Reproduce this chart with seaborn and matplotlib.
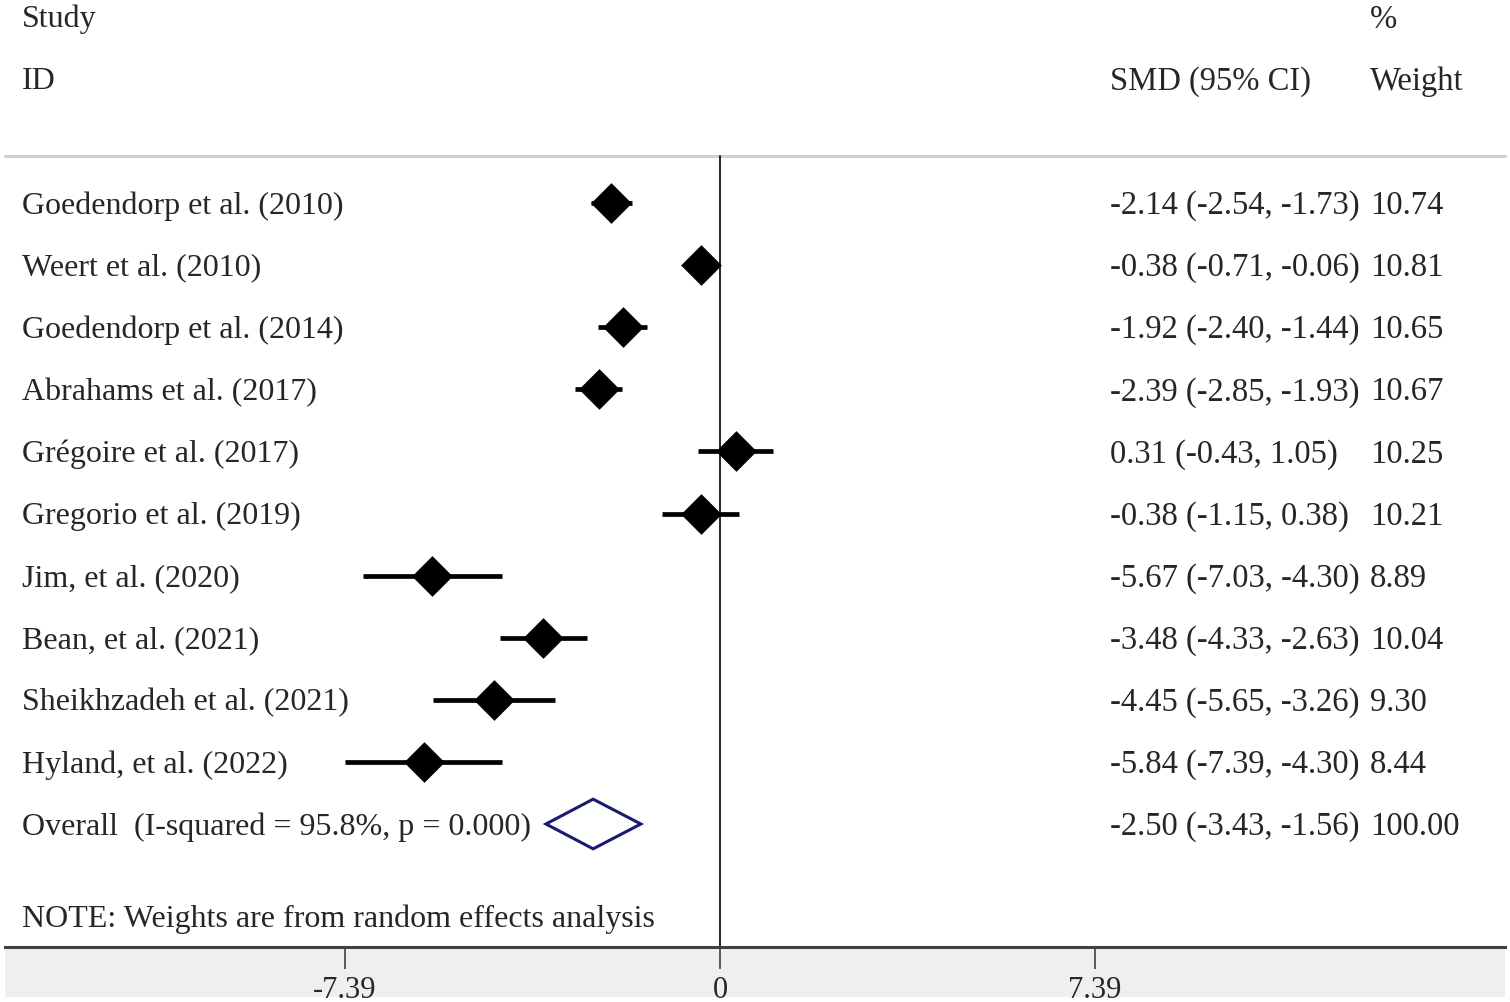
import seaborn as sns
import pandas as pd
import numpy as np
import matplotlib.pyplot as plt
from matplotlib.patches import Rectangle, Polygon

studies = ["Goedendorp et al. (2010)", "Weert et al. (2010)", "Goedendorp et al. (2014)",
           "Abrahams et al. (2017)", "Grégoire et al. (2017)", "Gregorio et al. (2019)",
           "Jim, et al. (2020)", "Bean, et al. (2021)", "Sheikhzadeh et al. (2021)",
           "Hyland, et al. (2022)"]
smd = [-2.14, -0.38, -1.92, -2.39, 0.31, -0.38, -5.67, -3.48, -4.45, -5.84]
lo = [-2.54, -0.71, -2.40, -2.85, -0.43, -1.15, -7.03, -4.33, -5.65, -7.39]
hi = [-1.73, -0.06, -1.44, -1.93, 1.05, 0.38, -4.30, -2.63, -3.26, -4.30]
weight = [10.74, 10.81, 10.65, 10.67, 10.25, 10.21, 8.89, 10.04, 9.30, 8.44]

overall_label = "Overall  (I-squared = 95.8%, p = 0.000)"
overall = [-2.50, -3.43, -1.56]
overall_weight = 100.00
ticks = [-7.39, 0, 7.39]

df = pd.DataFrame({"study": studies, "smd": smd, "lo": lo, "hi": hi, "weight": weight})
df["row"] = np.arange(len(df))

sns.set_style("white")
plt.rcParams["font.family"] = ["Liberation Serif", "DejaVu Serif"]
FS = 23
FS_R = 23.5
dy = 0.03  # small nudge so text centres sit on the row

W, H = 1510, 1003
fig = plt.figure(figsize=(W / 100, H / 100), dpi=100)

# grey band below the axis
fig.patches.append(Rectangle((5 / W, 5 / H), 1500 / W, (H - 950 - 5) / H,
                             transform=fig.transFigure, facecolor="#efefef",
                             edgecolor="none", zorder=-1))

ax = fig.add_axes([5 / W, (H - 948) / H, 1500 / W, 948 / H])
ax.set_facecolor("white")
px = 50.74  # pixels per unit
ax.set_xlim(-715 / px, 785 / px)
rowpx = 62.1
ax.set_ylim((948 - 204) / rowpx, -204 / rowpx)

for s in ["top", "left", "right"]:
    ax.spines[s].set_visible(False)
ax.spines["bottom"].set_color("#404040")
ax.spines["bottom"].set_linewidth(2.2)
ax.set_yticks([])
ax.set_xticks(ticks)
ax.set_xticklabels(["-7.39", "0", "7.39"])
ax.tick_params(axis="x", bottom=True, direction="out", length=16, width=1.2,
               color="#404040", pad=4, labelsize=22)
ax.set_xlabel("")
ax.set_ylabel("")

top_line = -(204 - 157) / rowpx
ax.plot([ax.get_xlim()[0], ax.get_xlim()[1]], [top_line, top_line],
        color="#cfcfcf", lw=2.2, clip_on=False)
ax.plot([0, 0], [top_line, ax.get_ylim()[0]], color="black", lw=1.2)

# CIs and point estimates
ax.hlines(df["row"], df["lo"], df["hi"], color="black", lw=3.4, zorder=2)
sns.scatterplot(data=df, x="smd", y="row", marker="D", s=430, color="black",
                edgecolor="black", linewidth=0, ax=ax, zorder=3, legend=False)

# overall diamond
orow = len(df)
ax.add_patch(Polygon([[overall[1], orow], [overall[0], orow - 0.4],
                      [overall[2], orow], [overall[0], orow + 0.4]],
                     closed=True, facecolor="white", edgecolor="#1a1a6e", lw=2.2, zorder=3))

xl = ax.get_xlim()[0]
x_text = xl + 17 / px
x_est = xl + (1110 - 5) / px
x_w = xl + (1370 - 5) / px

ax.text(x_text, -3 + dy, "Study", fontsize=FS, va="center")
ax.text(x_text, -2 + dy, "ID", fontsize=FS, va="center")
ax.text(x_w, -3 + dy, "%", fontsize=FS_R, va="center")
ax.text(x_est, -2 + dy, "SMD (95% CI)", fontsize=FS_R, va="center")
ax.text(x_w, -2 + dy, "Weight", fontsize=FS_R, va="center")

for i, r in df.iterrows():
    ax.text(x_text, r["row"] + dy, r["study"], fontsize=FS, va="center")
    ax.text(x_est, r["row"] + dy, f"{r['smd']:.2f} ({r['lo']:.2f}, {r['hi']:.2f})",
            fontsize=FS_R, va="center")
    ax.text(x_w, r["row"] + dy, f"{r['weight']:.2f}", fontsize=FS_R, va="center")

ax.text(x_text, orow + dy, overall_label, fontsize=FS, va="center")
ax.text(x_est, orow + dy, f"{overall[0]:.2f} ({overall[1]:.2f}, {overall[2]:.2f})",
        fontsize=FS_R, va="center")
ax.text(x_w, orow + dy, f"{overall_weight:.2f}", fontsize=FS_R, va="center")

ax.text(x_text, (917 - 204) / rowpx + dy, "NOTE: Weights are from random effects analysis",
        fontsize=FS, va="center")

fig.savefig("out.png", dpi=100)
